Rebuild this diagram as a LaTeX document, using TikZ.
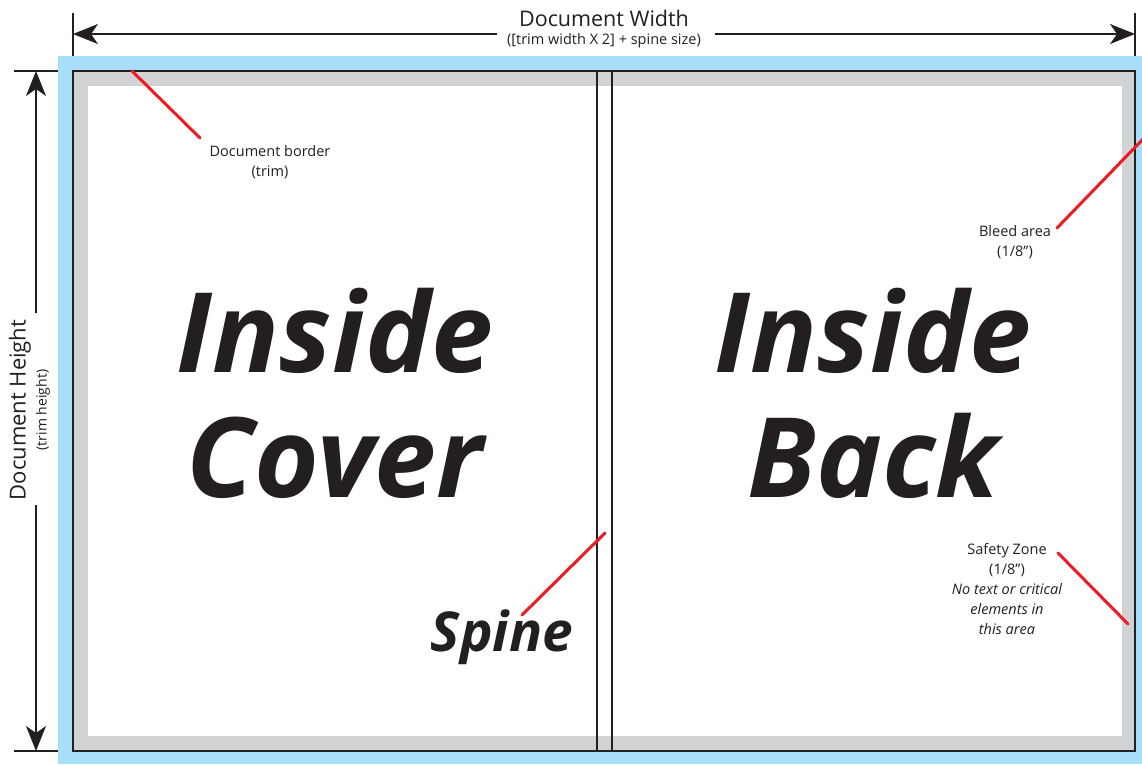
\documentclass[tikz,border=0pt]{standalone}
\usepackage{fontspec}
\setmainfont{Open Sans}
\usetikzlibrary{arrows.meta}
\definecolor{bleedblue}{HTML}{A8DEF8}
\definecolor{safegray}{HTML}{D1D2D4}
\definecolor{redline}{HTML}{ED1C24}
\definecolor{ink}{HTML}{231F20}
\tikzset{
  dimline/.style={ink, line width=2pt, -{Stealth[length=25pt,width=20pt,inset=7pt]}},
  tick/.style={ink, line width=2pt},
  trimline/.style={ink, line width=2pt},
  callout/.style={redline, line width=3pt, line cap=round},
  lbl/.style={text=ink, inner sep=0pt, align=center, font=\fontsize{14.5}{20}\selectfont},
  big/.style={text=ink, inner sep=0pt, align=center, font=\fontsize{111}{125}\selectfont\bfseries\itshape},
}
\begin{document}
\begin{tikzpicture}[x=1pt,y=-1pt]
\useasboundingbox (0,0) rectangle (1142,764);
% areas
\fill[bleedblue] (58,56) rectangle (1142,764);
\fill[safegray] (73,71) rectangle (1135,751);
\fill[white] (88,86) rectangle (1122,736);
\draw[trimline] (73,71) rectangle (1135,751);
% spine lines
\coordinate (spLt) at (597,71); \coordinate (spLb) at (597,751);
\coordinate (spRt) at (612,71); \coordinate (spRb) at (612,751);
\draw[trimline] (spLt) -- (spLb);
\draw[trimline] (spRt) -- (spRb);
% width dimension
\coordinate (wtL1) at (73,13); \coordinate (wtL2) at (73,56);
\coordinate (wtR1) at (1135,13); \coordinate (wtR2) at (1135,56);
\draw[tick] (wtL1) -- (wtL2);
\draw[tick] (wtR1) -- (wtR2);
\node[lbl, font=\fontsize{21.5}{22}\selectfont] (dw) at (604,18) {Document Width};
\node[lbl, font=\fontsize{14.5}{16}\selectfont] (dws) at (604,41) {([trim width X 2] + spine size)};
\coordinate (wgL) at (497,34); \coordinate (wgR) at (715,34);
\coordinate (waL) at (73,34); \coordinate (waR) at (1135,34);
\draw[dimline] (wgL) -- (waL);
\draw[dimline] (wgR) -- (waR);
% height dimension
\coordinate (htT1) at (14,71); \coordinate (htT2) at (58,71);
\coordinate (htB1) at (14,751); \coordinate (htB2) at (58,751);
\draw[tick] (htT1) -- (htT2);
\draw[tick] (htB1) -- (htB2);
\node[lbl, rotate=90, font=\fontsize{22}{24}\selectfont] (dh) at (20,410) {Document Height};
\node[lbl, rotate=90, font=\fontsize{14}{16}\selectfont] (dhs) at (43,410) {(trim height)};
\coordinate (hgT) at (36,313); \coordinate (hgB) at (36,505);
\coordinate (haT) at (36,71); \coordinate (haB) at (36,751);
\draw[dimline] (hgT) -- (haT);
\draw[dimline] (hgB) -- (haB);
% big texts
\node[big] (ic) at (335,393) {Inside\\Cover};
\node[big] (ib) at (873,393) {Inside\\Back};
\node[big, font=\fontsize{55}{60}\selectfont\bfseries\itshape] (sp) at (502,637) {Spine};
% callouts
\node[lbl] (db) at (270,162) {Document border\\(trim)};
\coordinate (dbA) at (132,71); \coordinate (dbB) at (200,138);
\draw[callout] (dbA) -- (dbB);
\node[lbl] (ba) at (1015,242) {Bleed area\\(1/8”)};
\coordinate (baA) at (1057,228); \coordinate (baB) at (1145,137);
\draw[callout] (baA) -- (baB);
\coordinate (spA) at (522,615); \coordinate (spB) at (605,533);
\draw[callout] (spA) -- (spB);
\node[lbl] (sz) at (1007,589) {Safety Zone\\(1/8”)\\\itshape No text or critical\\\itshape elements in\\\itshape this area};
\coordinate (szA) at (1058,553); \coordinate (szB) at (1128,624);
\draw[callout] (szA) -- (szB);
\end{tikzpicture}
\end{document}
